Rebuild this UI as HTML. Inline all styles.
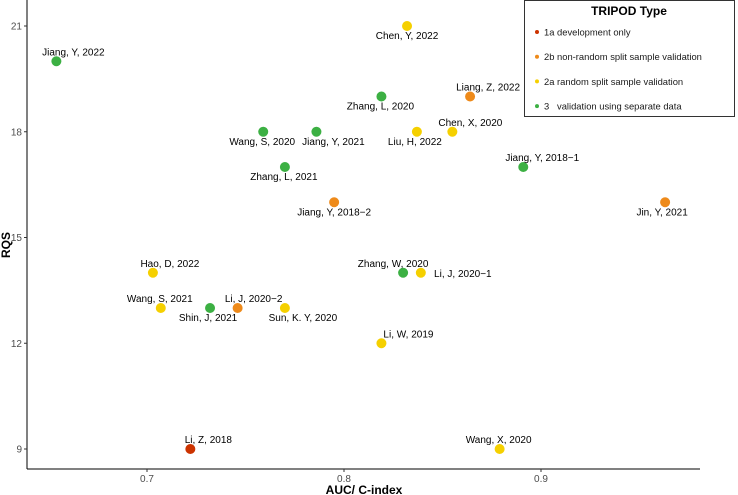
<!DOCTYPE html>
<html><head><meta charset="utf-8"><style>
body{margin:0;background:#fff;}
svg{display:block;font-family:"Liberation Sans",Arial,sans-serif;}
</style></head><body>
<svg id="chart" width="738" height="495">
<g id="axes"></g><g id="marks"></g><g id="legend"></g>
</svg>
<script>
const labels=["Jiang, Y, 2022","Chen, Y, 2022","Zhang, L, 2020","Liang, Z, 2022","Wang, S, 2020","Jiang, Y, 2021","Liu, H, 2022","Chen, X, 2020","Zhang, L, 2021","Jiang, Y, 2018\u22121","Jiang, Y, 2018\u22122","Jin, Y, 2021","Hao, D, 2022","Zhang, W, 2020","Li, J, 2020\u22121","Wang, S, 2021","Shin, J, 2021","Li, J, 2020\u22122","Sun, K. Y, 2020","Li, W, 2019","Li, Z, 2018","Wang, X, 2020"];
const auc=[0.654,0.832,0.819,0.864,0.759,0.786,0.837,0.855,0.770,0.891,0.795,0.963,0.703,0.830,0.839,0.707,0.732,0.746,0.770,0.819,0.722,0.879];
const rqs=[20,21,19,19,18,18,18,18,17,17,16,16,14,14,14,13,13,13,13,12,9,9];
const types=["3","2a","3","2b","3","3","2a","2a","3","3","2b","2b","2a","3","2a","2a","3","2b","2a","2a","1a","2a"];
const xTicks=[0.7,0.8,0.9];
const yTicks=[9,12,15,18,21];
const typeKeys=["1a","2b","2a","3"];
const typeNames=["1a development only","2b non-random split sample validation","2a random split sample validation","3   validation using separate data"];
// label placement (style): [dx, placement]
const place=[[17,'a'],[0,'b'],[-1,'b'],[18,'a'],[-1,'b'],[17,'b'],[-2,'b'],[18,'a'],[-1,'b'],[19,'a'],[0,'b'],[-3,'b'],[17,'a'],[-10,'a'],[42,'r'],[-1,'a'],[-2,'b'],[16,'a'],[18,'b'],[27,'a'],[18,'a'],[-1,'a']];
const colors={"1a":"#cc3300","2b":"#ee8a1a","2a":"#f5d000","3":"#3cb043"};
const NS="http://www.w3.org/2000/svg";
const L=27,R=700,T=0,B=469;
const sx=v=>147+(v-0.7)*1970;
const sy=v=>449-(v-9)*35.25;
function mk(tag,attrs,parent,text){const e=document.createElementNS(NS,tag);for(const k in attrs)e.setAttribute(k,attrs[k]);if(text!==undefined)e.textContent=text;parent.appendChild(e);return e;}
const ax=document.getElementById('axes');
let e=mk('line',{x1:L,y1:T,x2:L,y2:B,stroke:'#000','stroke-width':1},ax);


e=mk('line',{x1:L,y1:B,x2:R,y2:B,stroke:'#000','stroke-width':1},ax);


xTicks.forEach(t=>{const x=sx(t);
 mk('line',{x1:x,y1:B,x2:x,y2:B+3,stroke:'#333'},ax);
 e=mk('text',{x:x,y:B+13,'text-anchor':'middle','font-size':10,fill:'#4d4d4d'},ax,t.toFixed(1));
 
 });
yTicks.forEach(t=>{const y=sy(t);
 mk('line',{x1:L-3,y1:y,x2:L,y2:y,stroke:'#333'},ax);
 e=mk('text',{x:L-5,y:y+3.5,'text-anchor':'end','font-size':10,fill:'#4d4d4d'},ax,String(t));
 
 });
e=mk('text',{x:364,y:494,'text-anchor':'middle','font-size':12,'font-weight':'bold'},ax,'AUC/ C-index');


e=mk('text',{x:0,y:0,'text-anchor':'middle','font-size':12,'font-weight':'bold',transform:'translate(10,245) rotate(-90)'},ax,'RQS');


const mg=document.getElementById('marks');
auc.forEach((v,i)=>{const x=sx(v),y=sy(rqs[i]);
 const c=mk('circle',{cx:x,cy:y,r:5,fill:colors[types[i]]},mg);
 
 
 const p=place[i];let ty=p[1]==='a'?y-6:p[1]==='b'?y+13:y+4;
 const t=mk('text',{x:x+p[0],y:ty,'text-anchor':'middle','font-size':10,fill:'#000'},mg,labels[i]);
 
 });
const lg=document.getElementById('legend');
e=mk('rect',{x:524.5,y:0.5,width:210,height:116,fill:'#fff',stroke:'#333'},lg);


e=mk('text',{x:629,y:15,'text-anchor':'middle','font-size':12,'font-weight':'bold'},lg,'TRIPOD Type');


typeKeys.forEach((k,i)=>{const y=32+i*24.7;
 const g=mk('g',{},lg);
 
 
 mk('circle',{cx:537,cy:y,r:2,fill:colors[k]},g);
 mk('text',{x:544,y:y+3.5,'font-size':9.4,fill:'#1a1a1a',style:'white-space:pre'},g,typeNames[i]);});
</script>
</body></html>
